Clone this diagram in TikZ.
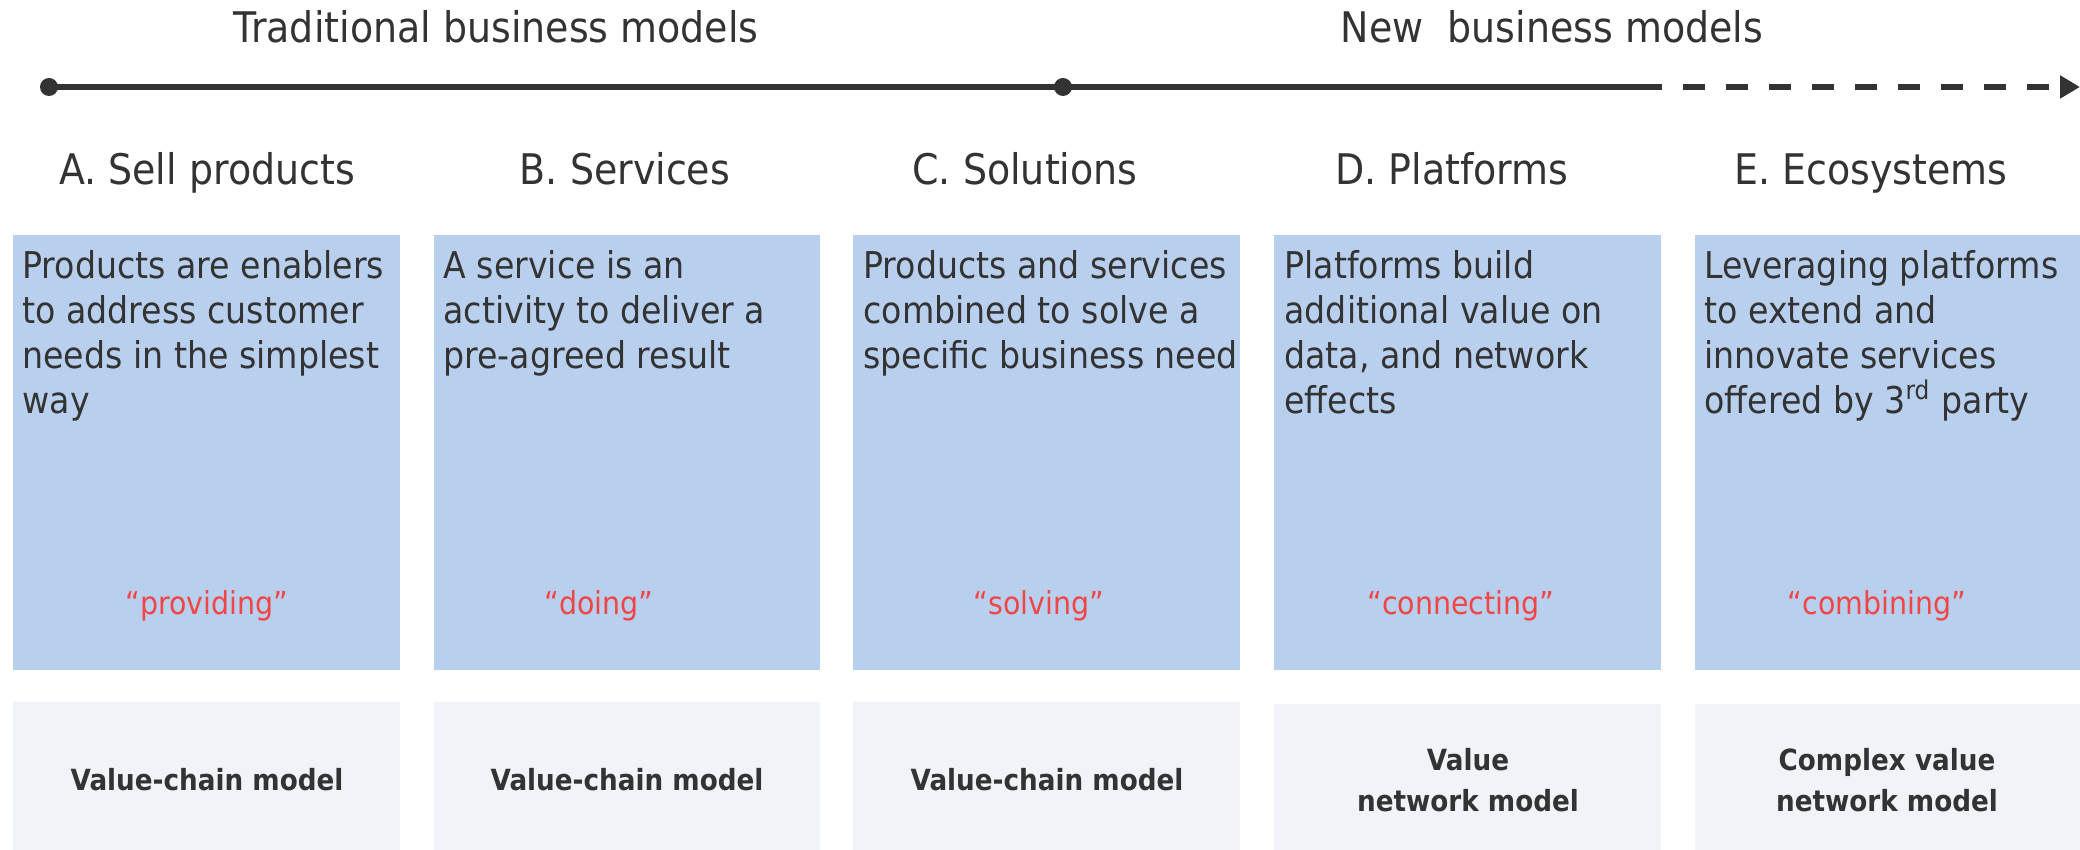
\documentclass[tikz,border=0pt]{standalone}
\usepackage{fontspec}
\setmainfont{DejaVu Sans}[FakeStretch=0.9]
\usepackage{tikz}
\usetikzlibrary{arrows.meta}

\definecolor{boxblue}{HTML}{B9CFEE}
\definecolor{boxgray}{HTML}{F0F4F9}
\definecolor{quotered}{HTML}{F24545}
\definecolor{textgray}{HTML}{333333}

\begin{document}
\begin{tikzpicture}[line width=0.3mm]
\tikzstyle{every node}=[text=textgray,inner sep=0]
\tikzstyle{era}=[font=\fontsize{12}{14}\selectfont,anchor=base]
\tikzstyle{heading}=[font=\fontsize{12}{14}\selectfont,anchor=base]
\tikzstyle{blurb}=[font=\fontsize{10.5}{12.8}\selectfont,anchor=north west,align=left]
\tikzstyle{keyword}=[font=\fontsize{9}{11}\selectfont,text=quotered,anchor=base]
\tikzstyle{model}=[font=\bfseries\fontsize{8.3}{11.7}\selectfont,align=center]
\tikzstyle{dot}=[circle,fill=textgray,minimum size=0.18cm]
\tikzstyle{timeline}=[textgray,line width=0.06cm]
\useasboundingbox (0,0) rectangle (20.8,8.5);
% eras and the time line
\node[era] (trad) at (4.96,8.07) {Traditional business models};
\node[era] (new) at (15.52,8.07) {New\ \ business models};
\node[dot] (tstart) at (0.49,7.63) {};
\node[dot] (tmid) at (10.63,7.63) {};
\coordinate (tdash) at (16.40,7.63);
\coordinate (tend) at (20.80,7.63);
\draw[timeline] (tstart.center) -- (tmid.center) -- (tdash);
\draw[timeline,dash pattern=on 0.22cm off 0.21cm,-{Triangle[length=0.2cm,width=0.22cm]}] (tdash) -- (tend);
% headings
\node[heading] (hsell) at (2.07,6.65) {A. Sell products};
\node[heading] (hserv) at (6.25,6.65) {B. Services};
\node[heading] (hsol) at (10.25,6.65) {C. Solutions};
\node[heading] (hplat) at (14.52,6.65) {D. Platforms};
\node[heading] (heco) at (18.71,6.65) {E. Ecosystems};
% blue boxes
\fill[boxblue] (0.13,1.80) rectangle (4.00,6.15);
\fill[boxblue] (4.34,1.80) rectangle (8.20,6.15);
\fill[boxblue] (8.53,1.80) rectangle (12.40,6.15);
\fill[boxblue] (12.74,1.80) rectangle (16.61,6.15);
\fill[boxblue] (16.95,1.80) rectangle (20.80,6.15);
\node[blurb] (tsell) at (0.21,6.01) {Products are enablers\\to address customer\\needs in the simplest\\way};
\node[blurb] (tserv) at (4.42,6.01) {A service is an\\activity to deliver a\\pre-agreed result};
\node[blurb] (tsol) at (8.62,6.01) {Products and services\\combined to solve a\\specific business need};
\node[blurb] (tplat) at (12.83,6.01) {Platforms build\\additional value on\\data, and network\\effects};
\node[blurb] (teco) at (17.03,6.01) {Leveraging platforms\\to extend and\\innovate services\\offered by 3\textsuperscript{rd} party};
\node[keyword] (ksell) at (2.07,2.35) {“providing”};
\node[keyword] (kserv) at (5.99,2.35) {“doing”};
\node[keyword] (ksol) at (10.39,2.35) {“solving”};
\node[keyword] (kplat) at (14.61,2.35) {“connecting”};
\node[keyword] (keco) at (18.77,2.35) {“combining”};
% grey boxes
\fill[boxgray] (0.13,0) rectangle (4.00,1.48);
\fill[boxgray] (4.34,0) rectangle (8.20,1.48);
\fill[boxgray] (8.53,0) rectangle (12.40,1.48);
\fill[boxgray] (12.74,0) rectangle (16.61,1.46);
\fill[boxgray] (16.95,0) rectangle (20.80,1.46);
\node[model] (msell) at (2.07,0.70) {Value-chain model};
\node[model] (mserv) at (6.27,0.70) {Value-chain model};
\node[model] (msol) at (10.47,0.70) {Value-chain model};
\node[model] (mplat) at (14.68,0.70) {Value\\network model};
\node[model] (meco) at (18.87,0.70) {Complex value\\network model};
\end{tikzpicture}
\end{document}
